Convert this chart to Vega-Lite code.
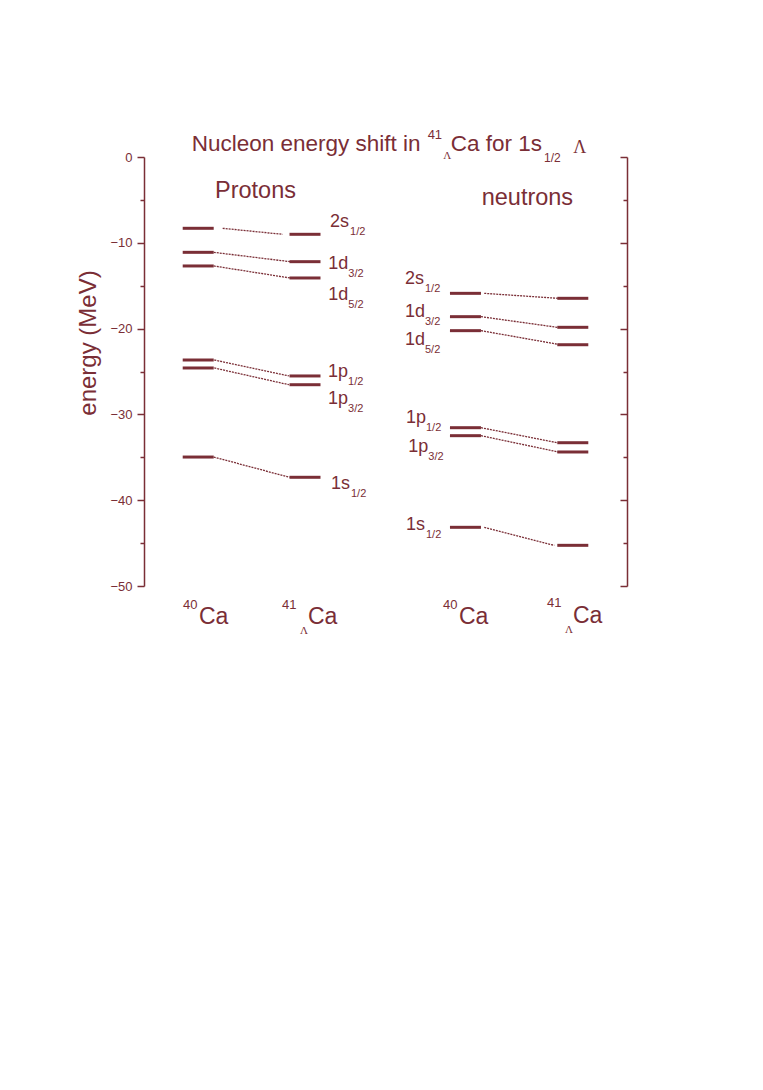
{
  "$schema": "https://vega.github.io/schema/vega-lite/v6.json",
  "autosize": "none",
  "width": 483,
  "height": 429,
  "padding": {"left": 144, "top": 157, "right": 136, "bottom": 504},
  "background": "white",
  "config": {
    "view": {"stroke": null},
    "font": "Liberation Sans",
    "axis": {"grid": false, "domainColor": "#7a2e36", "tickColor": "#7a2e36", "labelColor": "#7a2e36", "titleColor": "#7a2e36", "domainWidth": 1.5, "tickWidth": 1.5, "labelFont": "Liberation Sans", "titleFont": "Liberation Sans"}
  },
  "datasets": {
    "bars": [
      {"nucleon": "protons", "nucleus": "40Ca", "state": "2s1/2", "pos": 1.01, "E": -8.31},
      {"nucleon": "protons", "nucleus": "40Ca", "state": "1d3/2", "pos": 1.01, "E": -11.11},
      {"nucleon": "protons", "nucleus": "40Ca", "state": "1d5/2", "pos": 1.01, "E": -12.70},
      {"nucleon": "protons", "nucleus": "40Ca", "state": "1p1/2", "pos": 1.01, "E": -23.66},
      {"nucleon": "protons", "nucleus": "40Ca", "state": "1p3/2", "pos": 1.01, "E": -24.59},
      {"nucleon": "protons", "nucleus": "40Ca", "state": "1s1/2", "pos": 1.01, "E": -34.97},
      {"nucleon": "protons", "nucleus": "41LCa", "state": "2s1/2", "pos": 3.0, "E": -9.01},
      {"nucleon": "protons", "nucleus": "41LCa", "state": "1d3/2", "pos": 3.0, "E": -12.20},
      {"nucleon": "protons", "nucleus": "41LCa", "state": "1d5/2", "pos": 3.0, "E": -14.10},
      {"nucleon": "protons", "nucleus": "41LCa", "state": "1p1/2", "pos": 3.0, "E": -25.52},
      {"nucleon": "protons", "nucleus": "41LCa", "state": "1p3/2", "pos": 3.0, "E": -26.54},
      {"nucleon": "protons", "nucleus": "41LCa", "state": "1s1/2", "pos": 3.0, "E": -37.33},
      {"nucleon": "neutrons", "nucleus": "40Ca", "state": "2s1/2", "pos": 5.99, "E": -15.89},
      {"nucleon": "neutrons", "nucleus": "40Ca", "state": "1d3/2", "pos": 5.99, "E": -18.61},
      {"nucleon": "neutrons", "nucleus": "40Ca", "state": "1d5/2", "pos": 5.99, "E": -20.24},
      {"nucleon": "neutrons", "nucleus": "40Ca", "state": "1p1/2", "pos": 5.99, "E": -31.55},
      {"nucleon": "neutrons", "nucleus": "40Ca", "state": "1p3/2", "pos": 5.99, "E": -32.48},
      {"nucleon": "neutrons", "nucleus": "40Ca", "state": "1s1/2", "pos": 5.99, "E": -43.16},
      {"nucleon": "neutrons", "nucleus": "41LCa", "state": "2s1/2", "pos": 7.99, "E": -16.47},
      {"nucleon": "neutrons", "nucleus": "41LCa", "state": "1d3/2", "pos": 7.99, "E": -19.85},
      {"nucleon": "neutrons", "nucleus": "41LCa", "state": "1d5/2", "pos": 7.99, "E": -21.88},
      {"nucleon": "neutrons", "nucleus": "41LCa", "state": "1p1/2", "pos": 7.99, "E": -33.30},
      {"nucleon": "neutrons", "nucleus": "41LCa", "state": "1p3/2", "pos": 7.99, "E": -34.38},
      {"nucleon": "neutrons", "nucleus": "41LCa", "state": "1s1/2", "pos": 7.99, "E": -45.26}
    ],
    "links": [
      {"nucleon": "protons", "state": "2s1/2", "x1": 1.466, "x2": 2.584, "E40": -8.31, "E41": -9.01},
      {"nucleon": "protons", "state": "1d3/2", "x1": 1.30, "x2": 2.72, "E40": -11.11, "E41": -12.20},
      {"nucleon": "protons", "state": "1d5/2", "x1": 1.30, "x2": 2.72, "E40": -12.70, "E41": -14.10},
      {"nucleon": "protons", "state": "1p1/2", "x1": 1.31, "x2": 2.70, "E40": -23.66, "E41": -25.52},
      {"nucleon": "protons", "state": "1p3/2", "x1": 1.31, "x2": 2.70, "E40": -24.59, "E41": -26.54},
      {"nucleon": "protons", "state": "1s1/2", "x1": 1.30, "x2": 2.71, "E40": -34.97, "E41": -37.33},
      {"nucleon": "neutrons", "state": "2s1/2", "x1": 6.34, "x2": 7.71, "E40": -15.89, "E41": -16.47},
      {"nucleon": "neutrons", "state": "1d3/2", "x1": 6.28, "x2": 7.70, "E40": -18.61, "E41": -19.85},
      {"nucleon": "neutrons", "state": "1d5/2", "x1": 6.28, "x2": 7.76, "E40": -20.24, "E41": -21.88},
      {"nucleon": "neutrons", "state": "1p1/2", "x1": 6.28, "x2": 7.70, "E40": -31.55, "E41": -33.30},
      {"nucleon": "neutrons", "state": "1p3/2", "x1": 6.28, "x2": 7.72, "E40": -32.48, "E41": -34.38},
      {"nucleon": "neutrons", "state": "1s1/2", "x1": 6.34, "x2": 7.645, "E40": -43.16, "E41": -45.26}
    ],
    "labels": [
      {"main": "2s", "sub": "1/2", "x": 3.466, "y": -8.12},
      {"main": "1d", "sub": "3/2", "x": 3.434, "y": -13.05},
      {"main": "1d", "sub": "5/2", "x": 3.434, "y": -16.67},
      {"main": "1p", "sub": "1/2", "x": 3.43, "y": -25.64},
      {"main": "1p", "sub": "3/2", "x": 3.43, "y": -28.79},
      {"main": "1s", "sub": "1/2", "x": 3.484, "y": -38.69},
      {"main": "2s", "sub": "1/2", "x": 4.863, "y": -14.80},
      {"main": "1d", "sub": "3/2", "x": 4.863, "y": -18.68},
      {"main": "1d", "sub": "5/2", "x": 4.863, "y": -21.95},
      {"main": "1p", "sub": "1/2", "x": 4.882, "y": -30.97},
      {"main": "1p", "sub": "3/2", "x": 4.925, "y": -34.35},
      {"main": "1s", "sub": "1/2", "x": 4.882, "y": -43.47}
    ],
    "annot": [
      {"kind": "title", "text": "Nucleon energy shift in", "x": 0.889, "y": 0.66},
      {"kind": "title", "text": "Ca for 1s", "x": 5.714, "y": 0.66},
      {"kind": "sup", "text": "41", "x": 5.285, "y": 2.06},
      {"kind": "greekSmall", "text": "Λ", "x": 5.577, "y": -0.27},
      {"kind": "sub", "text": "1/2", "x": 7.453, "y": -0.55},
      {"kind": "greekBig", "text": "Λ", "x": 7.999, "y": 0.50},
      {"kind": "panel", "text": "Protons", "x": 1.323, "y": -4.74},
      {"kind": "panel", "text": "neutrons", "x": 6.292, "y": -5.59},
      {"kind": "sup", "text": "40", "x": 0.727, "y": -52.72},
      {"kind": "nucleus", "text": "Ca", "x": 1.025, "y": -54.47},
      {"kind": "sup", "text": "41", "x": 2.571, "y": -52.72},
      {"kind": "greekSmall", "text": "Λ", "x": 2.907, "y": -55.63},
      {"kind": "nucleus", "text": "Ca", "x": 3.056, "y": -54.47},
      {"kind": "sup", "text": "40", "x": 5.571, "y": -52.65},
      {"kind": "nucleus", "text": "Ca", "x": 5.869, "y": -54.47},
      {"kind": "sup", "text": "41", "x": 7.509, "y": -52.45},
      {"kind": "greekSmall", "text": "Λ", "x": 7.844, "y": -55.44},
      {"kind": "nucleus", "text": "Ca", "x": 7.993, "y": -54.35}
    ]
  },
  "resolve": {"axis": {"y": "independent"}},
  "layer": [
    {
      "data": {"name": "bars"},
      "mark": {"type": "tick", "orient": "horizontal", "size": 31, "thickness": 3, "color": "#7a2e36", "opacity": 1},
      "encoding": {
        "x": {"field": "pos", "type": "quantitative", "scale": {"domain": [0, 9], "nice": false, "zero": false}, "axis": null},
        "y": {"field": "E", "type": "quantitative", "scale": {"domain": [-50, 0], "nice": false, "zero": false},
          "axis": {"orient": "left", "values": [0, -10, -20, -30, -40, -50], "tickSize": 7, "labelFontSize": 13, "labelPadding": 5,
            "title": "energy (MeV)", "titleFontSize": 24, "titleFontWeight": "normal", "titleAngle": -90, "titleX": -49, "titleY": 185.5, "titleAlign": "center", "titleBaseline": "alphabetic"}}
      }
    },
    {
      "data": {"name": "links"},
      "mark": {"type": "rule", "color": "#7a2e36", "strokeWidth": 1.3, "strokeDash": [2, 1]},
      "encoding": {
        "x": {"field": "x1", "type": "quantitative", "scale": {"domain": [0, 9], "nice": false, "zero": false}, "axis": null},
        "x2": {"field": "x2"},
        "y": {"field": "E40", "type": "quantitative", "scale": {"domain": [-50, 0], "nice": false, "zero": false},
          "axis": {"orient": "left", "values": [-5, -15, -25, -35, -45], "tickSize": 4, "labels": false, "domain": false, "title": null}},
        "y2": {"field": "E41"}
      }
    },
    {
      "data": {"name": "labels"},
      "mark": {"type": "text", "align": "left", "baseline": "alphabetic", "fontSize": 18, "color": "#7a2e36"},
      "encoding": {
        "x": {"field": "x", "type": "quantitative", "scale": {"domain": [0, 9], "nice": false, "zero": false}, "axis": null},
        "y": {"field": "y", "type": "quantitative", "scale": {"domain": [-50, 0], "nice": false, "zero": false},
          "axis": {"orient": "right", "values": [0, -10, -20, -30, -40, -50], "tickSize": -7, "labels": false, "title": null}},
        "text": {"field": "main"}
      }
    },
    {
      "data": {"name": "labels"},
      "mark": {"type": "text", "align": "left", "baseline": "alphabetic", "fontSize": 11, "dx": 20, "dy": 8, "color": "#7a2e36"},
      "encoding": {
        "x": {"field": "x", "type": "quantitative", "scale": {"domain": [0, 9], "nice": false, "zero": false}, "axis": null},
        "y": {"field": "y", "type": "quantitative", "scale": {"domain": [-50, 0], "nice": false, "zero": false},
          "axis": {"orient": "right", "values": [-5, -15, -25, -35, -45], "tickSize": -4, "labels": false, "domain": false, "title": null}},
        "text": {"field": "sub"}
      }
    },
    {
      "data": {"name": "annot"},
      "transform": [{"filter": "datum.kind === 'title'"}],
      "mark": {"type": "text", "align": "left", "baseline": "alphabetic", "fontSize": 22.5, "color": "#7a2e36"},
      "encoding": {
        "x": {"field": "x", "type": "quantitative", "scale": {"domain": [0, 9], "nice": false, "zero": false}, "axis": null},
        "y": {"field": "y", "type": "quantitative", "scale": {"domain": [-50, 0], "nice": false, "zero": false}, "axis": null},
        "text": {"field": "text"}
      }
    },
    {
      "data": {"name": "annot"},
      "transform": [{"filter": "datum.kind === 'panel'"}],
      "mark": {"type": "text", "align": "left", "baseline": "alphabetic", "fontSize": 23.5, "color": "#7a2e36"},
      "encoding": {
        "x": {"field": "x", "type": "quantitative", "scale": {"domain": [0, 9], "nice": false, "zero": false}, "axis": null},
        "y": {"field": "y", "type": "quantitative", "scale": {"domain": [-50, 0], "nice": false, "zero": false}, "axis": null},
        "text": {"field": "text"}
      }
    },
    {
      "data": {"name": "annot"},
      "transform": [{"filter": "datum.kind === 'nucleus'"}],
      "mark": {"type": "text", "align": "left", "baseline": "alphabetic", "fontSize": 23, "color": "#7a2e36"},
      "encoding": {
        "x": {"field": "x", "type": "quantitative", "scale": {"domain": [0, 9], "nice": false, "zero": false}, "axis": null},
        "y": {"field": "y", "type": "quantitative", "scale": {"domain": [-50, 0], "nice": false, "zero": false}, "axis": null},
        "text": {"field": "text"}
      }
    },
    {
      "data": {"name": "annot"},
      "transform": [{"filter": "datum.kind === 'sup'"}],
      "mark": {"type": "text", "align": "left", "baseline": "alphabetic", "fontSize": 13, "color": "#7a2e36"},
      "encoding": {
        "x": {"field": "x", "type": "quantitative", "scale": {"domain": [0, 9], "nice": false, "zero": false}, "axis": null},
        "y": {"field": "y", "type": "quantitative", "scale": {"domain": [-50, 0], "nice": false, "zero": false}, "axis": null},
        "text": {"field": "text"}
      }
    },
    {
      "data": {"name": "annot"},
      "transform": [{"filter": "datum.kind === 'sub'"}],
      "mark": {"type": "text", "align": "left", "baseline": "alphabetic", "fontSize": 12, "color": "#7a2e36"},
      "encoding": {
        "x": {"field": "x", "type": "quantitative", "scale": {"domain": [0, 9], "nice": false, "zero": false}, "axis": null},
        "y": {"field": "y", "type": "quantitative", "scale": {"domain": [-50, 0], "nice": false, "zero": false}, "axis": null},
        "text": {"field": "text"}
      }
    },
    {
      "data": {"name": "annot"},
      "transform": [{"filter": "datum.kind === 'greekSmall'"}],
      "mark": {"type": "text", "align": "left", "baseline": "alphabetic", "fontSize": 11, "font": "Liberation Serif", "color": "#7a2e36"},
      "encoding": {
        "x": {"field": "x", "type": "quantitative", "scale": {"domain": [0, 9], "nice": false, "zero": false}, "axis": null},
        "y": {"field": "y", "type": "quantitative", "scale": {"domain": [-50, 0], "nice": false, "zero": false}, "axis": null},
        "text": {"field": "text"}
      }
    },
    {
      "data": {"name": "annot"},
      "transform": [{"filter": "datum.kind === 'greekBig'"}],
      "mark": {"type": "text", "align": "left", "baseline": "alphabetic", "fontSize": 18, "font": "Liberation Serif", "color": "#7a2e36"},
      "encoding": {
        "x": {"field": "x", "type": "quantitative", "scale": {"domain": [0, 9], "nice": false, "zero": false}, "axis": null},
        "y": {"field": "y", "type": "quantitative", "scale": {"domain": [-50, 0], "nice": false, "zero": false}, "axis": null},
        "text": {"field": "text"}
      }
    }
  ]
}
